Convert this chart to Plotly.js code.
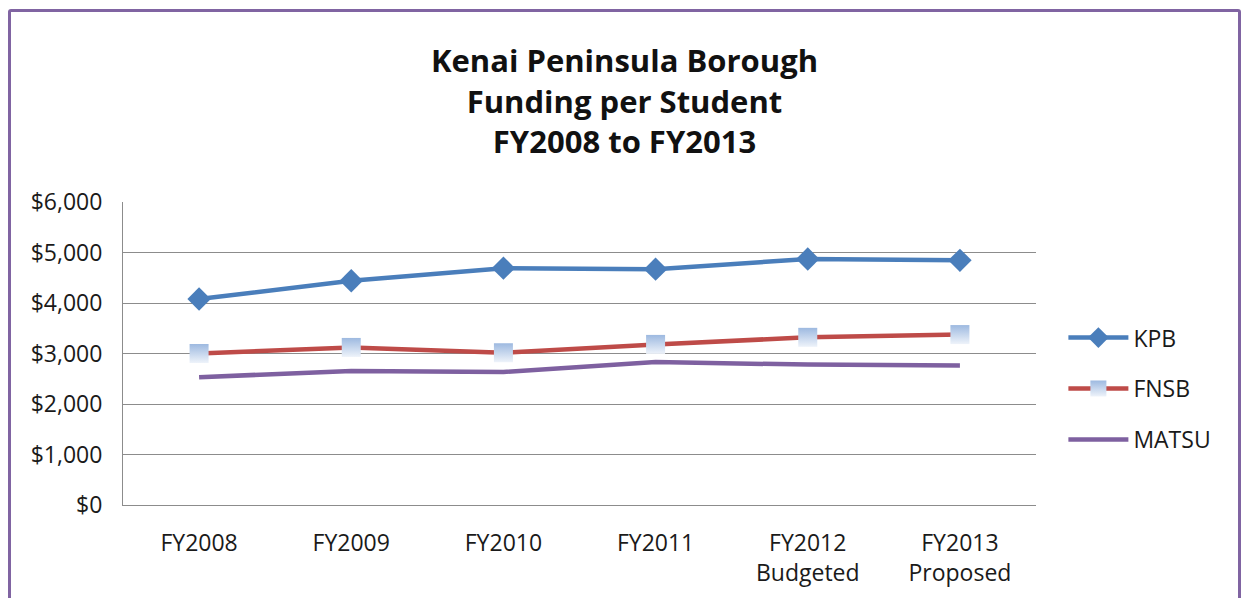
<!DOCTYPE html>
<html>
<head>
<meta charset="utf-8">
<script src="https://cdn.plot.ly/plotly-3.0.1.min.js"></script>
<style>
html,body{margin:0;padding:0;background:#fff;overflow:hidden;}
#wrap{position:relative;width:1249px;height:598px;}
#chart{width:1249px;height:598px;}
#frame{position:absolute;left:8px;top:9px;width:1227px;height:600px;border:3px solid #8064A2;border-radius:3px;pointer-events:none;}
</style>
</head>
<body>
<div id="wrap"><div id="chart"></div><div id="frame"></div></div>
<script>
const categories = ["FY2008", "FY2009", "FY2010", "FY2011", "FY2012<br>Budgeted", "FY2013<br>Proposed"];
const kpb   = [4080, 4440, 4690, 4670, 4870, 4845];
const fnsb  = [3000, 3120, 3015, 3180, 3320, 3375];
const matsu = [2530, 2655, 2635, 2830, 2780, 2760];
const yTickVals = [0, 1000, 2000, 3000, 4000, 5000, 6000];
const yTickText = ["$0", "$1,000", "$2,000", "$3,000", "$4,000", "$5,000", "$6,000"];

const FONT = "Open Sans, Liberation Sans, sans-serif";
const TXT = "#1a1a1a";

const traces = [
  {x: categories, y: kpb, name: "KPB", legendgroup: "a", type: "scatter", mode: "lines+markers",
   line: {color: "#4A7EBB", width: 4.5},
   marker: {symbol: "diamond", size: 18, color: "#4A7EBB"}},
  {x: categories, y: fnsb, name: "FNSB", legendgroup: "b", type: "scatter", mode: "lines+markers",
   line: {color: "#BE4B48", width: 4.5},
   marker: {symbol: "square", size: 19, color: "#9DB9E0",
            gradient: {type: "vertical", color: "#EEF3FA"},
            line: {width: 0}}},
  {x: categories, y: matsu, name: "MATSU", legendgroup: "c", type: "scatter", mode: "lines",
   line: {color: "#7E60A0", width: 4.5}}
];

const layout = {
  width: 1249, height: 598,
  margin: {l: 123, r: 213, t: 202, b: 93},
  paper_bgcolor: "#ffffff", plot_bgcolor: "#ffffff",
  font: {family: FONT, size: 23, color: TXT},
  title: {
    text: "<b>Kenai Peninsula Borough<br>Funding per Student<br>FY2008 to FY2013</b>",
    x: 0.5, xanchor: "center", xref: "container",
    y: 0.879, yanchor: "middle", yref: "container",
    font: {family: FONT, size: 31, color: "#111"}
  },
  xaxis: {
    type: "category", range: [-0.5, 5.5],
    showgrid: false, zeroline: false,
    showline: true, linecolor: "#8c8c8c", linewidth: 1,
    ticks: "", ticklabelstandoff: 17,
    tickfont: {family: FONT, size: 23, color: TXT},
    fixedrange: true
  },
  yaxis: {
    range: [0, 6000], tickvals: yTickVals, ticktext: yTickText,
    showgrid: true, gridcolor: "#8c8c8c", gridwidth: 1,
    zeroline: false, showline: true, linecolor: "#8c8c8c", linewidth: 1,
    ticks: "", ticklabelstandoff: 15,
    tickfont: {family: FONT, size: 23, color: TXT},
    fixedrange: true
  },
  showlegend: true,
  legend: {
    x: 1.03, xanchor: "left", y: 0.384, yanchor: "middle",
    font: {family: FONT, size: 23, color: TXT},
    tracegroupgap: 18, itemwidth: 60,
    bgcolor: "rgba(0,0,0,0)"
  }
};

Plotly.newPlot("chart", traces, layout, {displayModeBar: false, staticPlot: true});
</script>
</body>
</html>
